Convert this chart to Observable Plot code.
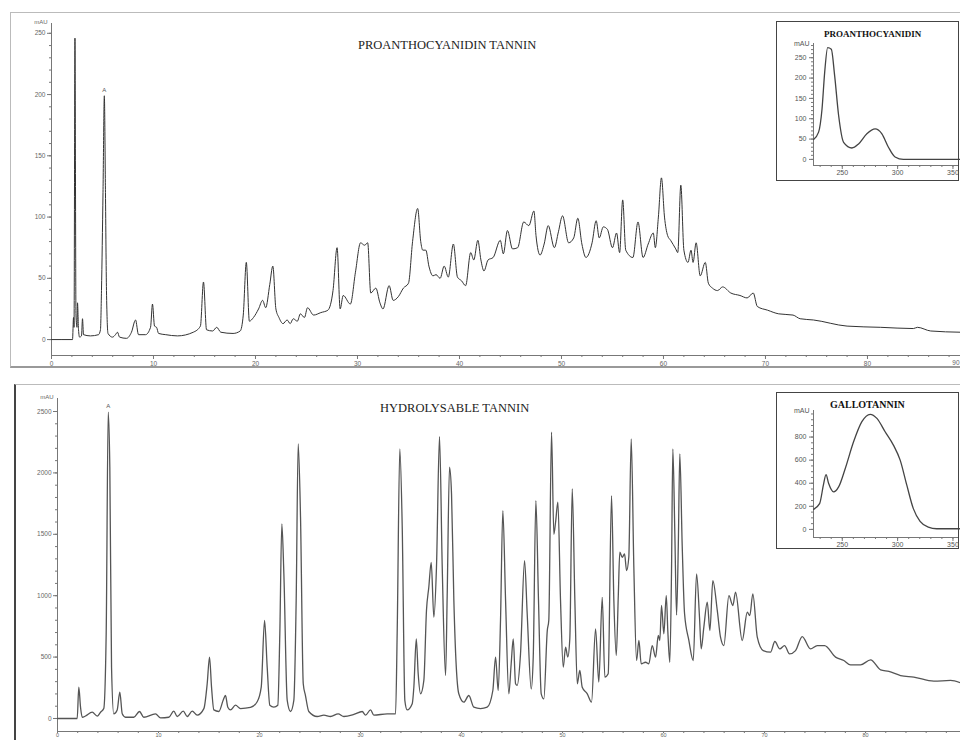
<!DOCTYPE html>
<html><head><meta charset="utf-8">
<script src="https://cdn.jsdelivr.net/npm/d3@7"></script>
<script src="https://cdn.jsdelivr.net/npm/@observablehq/plot@0.6"></script>
<style>
body{margin:0;background:#fff;}
#wrap{position:relative;width:960px;height:740px;overflow:hidden;background:#fff;font-family:"Liberation Sans",Arial,sans-serif;}
.panel{position:absolute;box-sizing:border-box;}
.title{position:absolute;font-family:"Liberation Serif","Times New Roman",serif;color:#222;white-space:nowrap;}
.ititle{position:absolute;font-family:"Liberation Serif","Times New Roman",serif;font-weight:bold;color:#111;white-space:nowrap;}
.inset{position:absolute;border:1px solid #444;background:#fff;}
</style></head>
<body><div id="wrap"></div>
<script>
// ---- data: [retention time (min), absorbance (mAU)] ----
const proanthocyanidinTrace = [[0,0],[2.06,0],[2.16,18],[2.21,10],[2.30,246],[2.40,20],[2.50,10],[2.55,30],[2.65,8],[2.75,2],[2.94,3],[3.04,17],[3.14,4],[3.82,3],[4.61,4],[4.80,8],[4.90,40],[5.05,120],[5.18,199],[5.29,120],[5.39,40],[5.54,5],[5.98,2],[6.27,4],[6.47,6],[6.67,2],[7.35,1],[7.84,6],[8.24,16],[8.53,4],[9.22,4],[9.71,10],[9.90,29],[10.1,11],[10.3,10],[10.5,5],[11.2,4],[12.35,3],[13.9,6],[14.6,11],[14.9,47],[15.2,8],[15.8,7],[16.2,10],[16.6,6],[17.8,5],[18.5,7],[18.8,20],[19.1,63],[19.4,15],[19.8,18],[20.3,25],[20.7,32],[21.0,26],[21.4,45],[21.7,60],[22.0,25],[22.3,18],[22.7,13],[23.1,16],[23.4,13],[23.7,17],[24.1,15],[24.4,21],[24.8,18],[25.1,26],[25.7,20],[26.4,22],[27.1,24],[27.6,40],[28.0,75],[28.3,25],[28.6,36],[29.3,29],[29.8,55],[30.3,79],[30.7,77],[31.0,79],[31.3,38],[31.8,42],[32.2,30],[32.5,25],[33.1,44],[33.5,32],[34.0,35],[34.5,42],[35.0,46],[35.4,80],[35.9,107],[36.2,80],[36.4,73],[36.7,73],[37.0,60],[37.4,52],[37.7,53],[38.1,50],[38.5,60],[38.9,51],[39.4,78],[39.8,51],[40.2,48],[40.6,44],[41.1,71],[41.4,65],[41.8,81],[42.1,65],[42.4,56],[42.8,65],[43.3,67],[44.0,81],[44.3,70],[44.7,89],[45.2,74],[45.7,75],[46.3,96],[46.8,93],[47.3,105],[47.5,85],[47.9,69],[48.3,78],[48.7,93],[49.3,75],[49.7,88],[50.1,101],[50.7,79],[51.2,83],[51.6,99],[52.0,78],[52.4,67],[53.0,79],[53.4,97],[53.7,83],[54.1,92],[54.5,90],[55.0,75],[55.4,87],[55.7,71],[56.0,114],[56.3,73],[57.0,67],[57.5,96],[58.0,67],[58.5,78],[59.0,87],[59.2,75],[59.5,100],[59.8,132],[60.1,100],[60.4,85],[60.7,81],[61.2,74],[61.4,71],[61.7,126],[62.0,73],[62.4,63],[62.7,73],[62.9,63],[63.2,79],[63.6,52],[64.1,63],[64.4,46],[64.8,42],[65.3,40],[65.8,43],[66.6,38],[67.5,36],[68.2,34],[68.8,38],[69.2,27],[70.2,24],[71.3,21],[72.7,20],[73.4,17],[74.7,16],[78.0,11],[81.3,10],[84.5,9],[84.9,10],[86.2,7],[89.1,6]];

const hydrolysableTrace = [[0,0],[1.95,0],[2.11,255],[2.28,92],[2.45,10],[2.77,20],[3.44,51],[3.93,20],[4.26,51],[4.58,81],[4.82,690],[5.02,2495],[5.18,2046],[5.35,418],[5.57,38],[5.91,70],[6.17,214],[6.41,38],[6.73,10],[7.55,10],[8.12,57],[8.54,10],[9.70,38],[10.20,5],[11.02,10],[11.51,60],[11.85,16],[12.45,60],[12.84,16],[13.34,60],[13.83,27],[14.49,80],[14.82,283],[15.05,500],[15.25,255],[15.48,70],[15.97,57],[16.41,150],[16.63,187],[16.86,92],[17.13,70],[17.62,108],[18.12,81],[19.11,90],[19.77,136],[20.17,255],[20.50,798],[20.76,418],[21.02,108],[21.42,92],[21.81,108],[22.01,690],[22.21,1585],[22.41,1180],[22.74,150],[23.07,57],[23.40,150],[23.63,963],[23.83,2236],[24.06,1640],[24.33,283],[24.55,187],[24.88,57],[25.71,16],[26.37,27],[27.03,16],[27.79,38],[28.35,16],[29.34,33],[30.17,57],[30.50,27],[30.99,70],[31.32,27],[32.64,38],[33.47,38],[33.63,700],[33.89,2195],[34.13,1555],[34.39,146],[34.62,70],[35.12,120],[35.28,255],[35.52,649],[35.71,364],[35.94,201],[36.27,310],[36.53,879],[36.76,1069],[37.00,1272],[37.26,825],[37.52,1232],[37.82,2295],[38.09,1232],[38.42,350],[38.58,1000],[38.81,2046],[39.01,1829],[39.24,964],[39.73,201],[40.23,133],[40.72,187],[41.22,92],[41.88,81],[42.54,92],[43.10,228],[43.37,500],[43.63,228],[43.86,800],[44.09,1693],[44.36,964],[44.68,201],[44.92,450],[45.12,649],[45.35,283],[45.51,270],[45.84,526],[46.24,1286],[46.50,855],[46.90,240],[47.10,500],[47.36,1775],[47.62,964],[47.89,201],[48.15,160],[48.49,716],[48.64,800],[48.91,2331],[49.14,1500],[49.31,1598],[49.54,1761],[49.80,964],[50.07,418],[50.30,580],[50.52,500],[50.72,649],[50.96,1870],[51.22,964],[51.46,283],[51.71,391],[51.95,255],[52.45,201],[52.87,133],[53.27,730],[53.59,296],[53.93,987],[54.19,337],[54.52,364],[54.85,1815],[55.08,964],[55.32,513],[55.52,1000],[55.67,1354],[55.91,1313],[56.14,1340],[56.34,1204],[56.56,1313],[56.80,2277],[57.06,1232],[57.33,472],[57.56,635],[57.79,445],[58.22,458],[58.54,445],[58.88,594],[59.21,499],[59.48,676],[59.63,635],[59.80,920],[60.03,690],[60.27,1001],[60.43,700],[60.62,458],[60.79,1200],[60.92,2195],[61.12,1500],[61.29,843],[61.46,1400],[61.61,2155],[61.85,1400],[62.08,855],[62.51,635],[62.94,472],[63.27,1178],[63.56,825],[63.73,567],[63.99,744],[64.33,947],[64.59,716],[64.88,1123],[65.32,880],[65.64,662],[65.97,594],[66.47,1001],[66.86,920],[67.13,1028],[67.79,635],[68.29,865],[68.54,838],[68.84,1015],[69.28,662],[69.87,553],[70.59,540],[71.02,627],[71.51,567],[71.98,594],[72.48,526],[73.07,553],[73.73,667],[74.55,567],[75.22,594],[75.94,594],[77.03,500],[77.85,472],[78.51,437],[79.50,437],[80.50,477],[81.49,396],[82.31,383],[83.47,350],[84.78,337],[86.76,304],[88.42,310],[89.41,290]];

// ---- UV spectra: [wavelength (nm), absorbance (mAU)] ----
const proanthocyanidinSpectrum = [[224.1,49],[228.6,67],[231.7,124],[234.1,214],[236.8,275],[240.1,271],[243.1,206],[246.7,108],[251.2,42],[258.7,28],[264.7,38],[272.2,63],[279.7,75],[285.8,63],[291.7,30],[297.7,6],[305.2,0],[356,0]];
const gallotanninSpectrum = [[224.1,174],[229.5,223],[233.2,397],[235.3,475],[237.7,397],[242.2,325],[246.7,368],[252.7,528],[260.2,759],[267.7,933],[275.2,997],[281.3,962],[288.7,846],[296.2,730],[302.3,600],[308.3,383],[314.2,180],[320.3,70],[327.7,20],[335.3,6],[356,6]];

// ---- tick values / labels ----
const topTimeTicks = [0,10,20,30,40,50,60,70,80];
const topTimeEdgeLabel = ["90"];
const botTimeTicks = [0,10,20,30,40,50,60,70,80];
const topAbsTicks = [0,50,100,150,200,250];
const botAbsTicks = [0,500,1000,1500,2000,2500];
const proSpecTicks = [0,50,100,150,200,250];
const galSpecTicks = [0,200,400,600,800];
const wlTicks = [250,300,350];

const toObj = arr => arr.map(([x, y]) => ({x, y}));
const wrap = document.getElementById("wrap");
const font = "'Liberation Sans', Arial, sans-serif";
const axisCol = "#777";
const str = d => String(d);

function place(svg, left, top, parent) {
  svg.style.position = "absolute";
  svg.style.left = left + "px";
  svg.style.top = top + "px";
  (parent || wrap).appendChild(svg);
}
function div(cls, css, text) {
  const d = document.createElement("div");
  d.className = cls;
  Object.assign(d.style, css);
  if (text) d.textContent = text;
  wrap.appendChild(d);
  return d;
}

function peakNear(data, lo, hi) {
  return data.filter(d => d.x > lo && d.x < hi).reduce((a, b) => (b.y > a.y ? b : a));
}

function chromatogram({data, width, height, mL, mT, mB, xDom, yDom, yTicks, yMinor, xTicks, xEdge, xMinor, stroke, sw, xFont, xTickSize, xPad}) {
  const marks = [
    Plot.ruleX([xDom[0]], {stroke: axisCol, strokeWidth: 1}),
    Plot.ruleY([yDom[0]], {stroke: axisCol, strokeWidth: 1}),
    Plot.axisY(yMinor, {tickSize: 2, tickFormat: () => "", stroke: axisCol, label: null}),
    Plot.axisY(yTicks, {tickSize: 4, tickPadding: 2, fontSize: 6.5, stroke: axisCol, fill: "#666", tickFormat: str, label: null}),
    Plot.axisX(xMinor, {tickSize: 2, tickFormat: () => "", stroke: axisCol, label: null}),
    Plot.axisX(xTicks, {tickSize: xTickSize, tickPadding: xPad, fontSize: xFont, stroke: axisCol, fill: "#666", tickFormat: str, label: null}),
    Plot.text(["mAU"], {frameAnchor: "top-left", dx: -4, dy: -4, textAnchor: "end", fontSize: 6, fill: "#666"}),
    Plot.line(data, {x: "x", y: "y", curve: "monotone-x", stroke, strokeWidth: sw}),
    Plot.text([peakNear(data, 4, 6)], {x: "x", y: "y", text: () => "A", dy: -6, fontSize: 6, fill: "#555"})
  ];
  if (xEdge) marks.push(Plot.text(xEdge, {frameAnchor: "bottom-right", dx: -1, dy: 9, textAnchor: "end", fontSize: xFont, fill: "#666"}));
  return Plot.plot({
    width, height, marginLeft: mL, marginRight: 0, marginTop: mT, marginBottom: mB,
    x: {domain: xDom, label: null},
    y: {domain: yDom, label: null},
    style: {fontFamily: font, background: "transparent", overflow: "visible", color: axisCol},
    marks
  });
}

function spectrum({data, height, mT, mB, yDom, yTicks, yMinor}) {
  return Plot.plot({
    width: 181, height, marginLeft: 36, marginRight: 0, marginTop: mT, marginBottom: mB,
    x: {domain: [224, 355], label: null},
    y: {domain: yDom, label: null},
    style: {fontFamily: font, background: "transparent", overflow: "visible", color: axisCol},
    marks: [
      Plot.ruleX([224], {stroke: axisCol}),
      Plot.ruleY([yDom[0]], {stroke: axisCol}),
      Plot.axisY(yMinor, {tickSize: 2, tickFormat: () => "", stroke: axisCol, label: null}),
      Plot.axisY(yTicks, {tickSize: 4, tickPadding: 3, fontSize: 7, stroke: axisCol, fill: "#555", tickFormat: str, label: null}),
      Plot.axisX(d3.range(230, 356, 10), {tickSize: 2, tickFormat: () => "", stroke: axisCol, label: null}),
      Plot.axisX(wlTicks, {tickSize: 4, tickPadding: 1, fontSize: 7, stroke: axisCol, fill: "#555", tickFormat: str, label: null}),
      Plot.text(["mAU"], {frameAnchor: "top-left", dx: -4, dy: -2, textAnchor: "end", fontSize: 7, fill: "#555"}),
      Plot.line(data, {x: "x", y: "y", curve: "monotone-x", stroke: "#444", strokeWidth: 1.3})
    ]
  });
}

// panel frames
div("panel", {left: "10px", top: "12px", width: "951px", height: "356px", border: "1px solid #bbb", borderBottom: "2px solid #999"});
div("panel", {left: "14px", top: "384px", width: "947px", height: "360px", borderTop: "1px solid #bbb", borderLeft: "2px solid #444"});

// top chromatogram
const topData = toObj(proanthocyanidinTrace);
place(chromatogram({data: topData, width: 960, height: 370, mL: 51, mT: 23, mB: 15,
  xDom: [0, 89.12], yDom: [-13, 258], yTicks: topAbsTicks, yMinor: d3.range(0, 251, 10),
  xTicks: topTimeTicks, xEdge: topTimeEdgeLabel, xMinor: d3.range(0, 90, 2),
  stroke: "#333", sw: 1, xFont: 6.5, xTickSize: 4, xPad: 2}), 0, 0);

// bottom chromatogram
const botData = toObj(hydrolysableTrace);
place(chromatogram({data: botData, width: 960, height: 360, mL: 57, mT: 18, mB: 9,
  xDom: [0, 89.4], yDom: [-106, 2606], yTicks: botAbsTicks, yMinor: d3.range(0, 2501, 100),
  xTicks: botTimeTicks, xEdge: null, xMinor: d3.range(0, 90, 2),
  stroke: "#555", sw: 1.3, xFont: 5.5, xTickSize: 2, xPad: 0}), 0, 380);

// titles
div("title", {left: "358px", top: "38px", fontSize: "12.5px"}, "PROANTHOCYANIDIN TANNIN");
div("title", {left: "380px", top: "401px", fontSize: "12.5px"}, "HYDROLYSABLE TANNIN");

// insets
const in1 = div("inset", {left: "776px", top: "21px", width: "181px", height: "158px"});
place(spectrum({data: toObj(proanthocyanidinSpectrum), height: 158, mT: 21, mB: 15,
  yDom: [-15, 285], yTicks: proSpecTicks, yMinor: d3.range(0, 281, 10)}), 0, 0, in1);
div("ititle", {left: "824px", top: "29px", fontSize: "9px"}, "PROANTHOCYANIDIN");

const in2 = div("inset", {left: "776px", top: "392px", width: "181px", height: "155px"});
place(spectrum({data: toObj(gallotanninSpectrum), height: 155, mT: 17, mB: 11,
  yDom: [-70, 1030], yTicks: galSpecTicks, yMinor: d3.range(0, 1001, 50)}), 0, 0, in2);
div("ititle", {left: "830px", top: "399px", fontSize: "10px"}, "GALLOTANNIN");
</script></body></html>
